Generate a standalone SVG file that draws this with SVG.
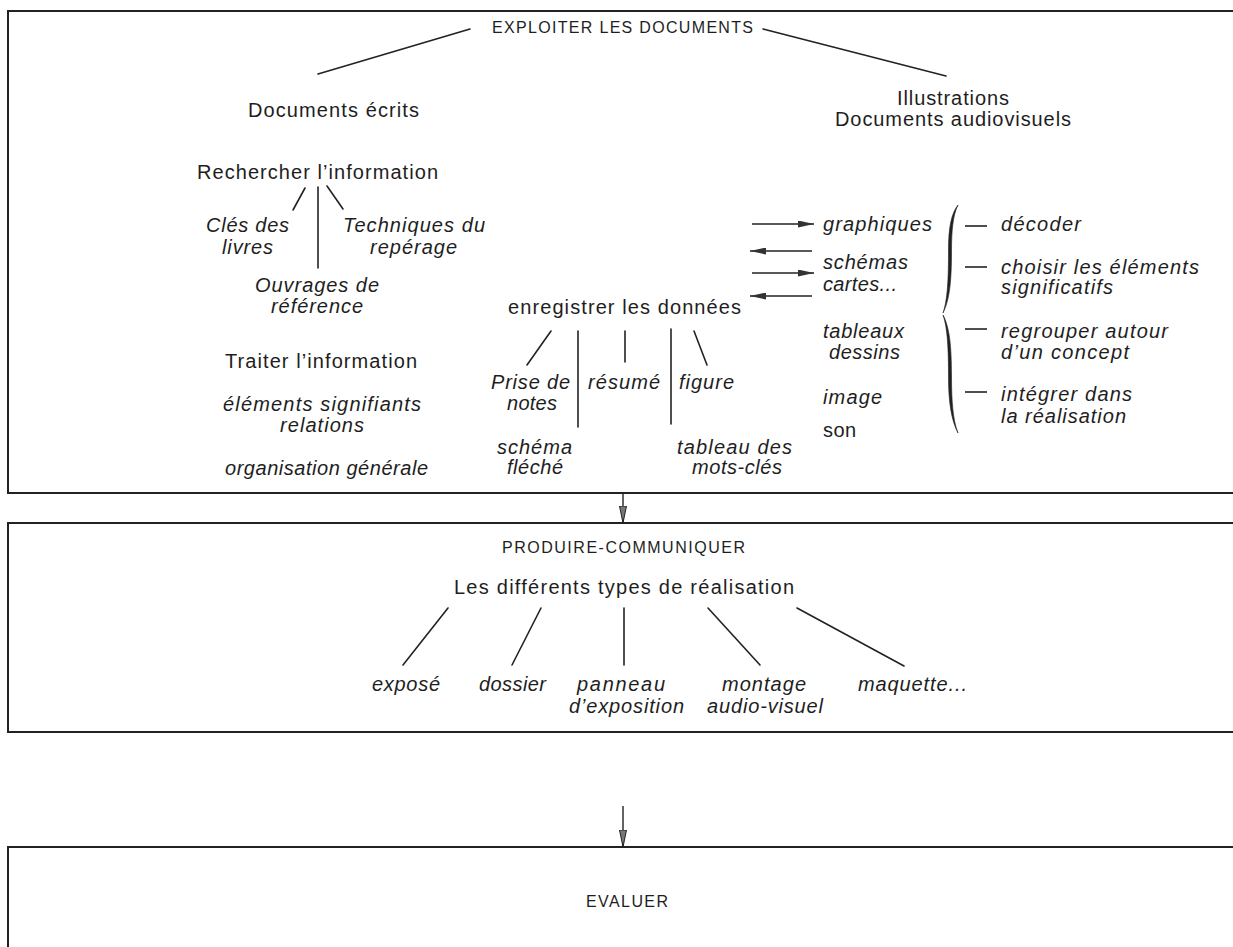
<svg xmlns="http://www.w3.org/2000/svg" width="1233" height="947" viewBox="0 0 1233 947">
<style>
  text { font-family: "Liberation Sans", Arial, Helvetica, sans-serif; font-size: 20px; fill: #1e1e1e; }
  .i { font-style: italic; }
  .cap { font-size: 16px; }
  .box { fill: none; stroke: #222; stroke-width: 2; }
  .ln { fill: none; stroke: #222; stroke-width: 1.6; stroke-linecap: round; }
  .dash { fill: none; stroke: #222; stroke-width: 1.6; }
  .arr { fill: none; stroke: #222; stroke-width: 1.5; marker-end: url(#ah); }
  .varr { fill: none; stroke: #222; stroke-width: 1.4; marker-end: url(#vh); }
  .brace { fill: #222; stroke: #222; stroke-width: 0.6; }
</style>
<defs>
  <marker id="ah" markerUnits="userSpaceOnUse" viewBox="0 0 16 7" refX="16" refY="3.5" markerWidth="16" markerHeight="7" orient="auto">
    <path d="M0,0 L16,3.5 L0,7 Z" fill="#333"/>
  </marker>
  <marker id="vh" markerUnits="userSpaceOnUse" viewBox="0 0 17 8" refX="17" refY="4" markerWidth="17" markerHeight="8" orient="auto">
    <path d="M0,0.5 L17,4 L0,7.5 Z" fill="#777" stroke="#222" stroke-width="1"/>
  </marker>
</defs>
<rect x="0" y="0" width="1233" height="947" fill="#ffffff"/>

<g id="box-exploiter"><rect class="box" x="8" y="11" width="1240" height="482"/></g>
<g id="box-produire"><rect class="box" x="8" y="523" width="1240" height="209"/></g>
<g id="box-evaluer"><rect class="box" x="8" y="847" width="1240" height="120"/></g>

<g id="connectors">
  <line class="ln" x1="470" y1="29" x2="318" y2="74"/>
  <line class="ln" x1="763" y1="29" x2="946" y2="76"/>
  <line class="ln" x1="305" y1="188" x2="293" y2="210"/>
  <line class="ln" x1="318" y1="187" x2="318" y2="268"/>
  <line class="ln" x1="327" y1="186" x2="343" y2="209"/>
  <line class="ln" x1="551" y1="331" x2="527" y2="365"/>
  <line class="ln" x1="578" y1="331" x2="578" y2="427"/>
  <line class="ln" x1="625" y1="331" x2="625" y2="362"/>
  <line class="ln" x1="671" y1="329" x2="671" y2="424"/>
  <line class="ln" x1="694" y1="331" x2="707" y2="365"/>
  <line class="arr" x1="752" y1="224" x2="814" y2="224"/>
  <line class="arr" x1="812" y1="251" x2="750" y2="251"/>
  <line class="arr" x1="752" y1="273" x2="814" y2="273"/>
  <line class="arr" x1="812" y1="296" x2="750" y2="296"/>
  <line class="dash" x1="965" y1="226" x2="987" y2="226"/>
  <line class="dash" x1="965" y1="267" x2="987" y2="267"/>
  <line class="dash" x1="965" y1="329" x2="987" y2="329"/>
  <line class="dash" x1="965" y1="392" x2="987" y2="392"/>
  <path class="brace" d="M958,205 C951,214 948.5,228 948.5,250 C948.5,280 947.5,300 943,313 C949.5,300 951.5,282 951.5,252 C951.5,230 953,215 958,205 Z"/>
  <path class="brace" d="M943,315 C947.5,328 948.5,348 948.5,378 C948.5,400 951,420 958,433 C953,420 951.5,402 951.5,376 C951.5,346 949.5,327 943,315 Z"/>
  <line class="varr" x1="623" y1="493" x2="623" y2="523"/>
  <line class="ln" x1="448" y1="608" x2="403" y2="665"/>
  <line class="ln" x1="541" y1="608" x2="512" y2="665"/>
  <line class="ln" x1="624" y1="608" x2="624" y2="665"/>
  <line class="ln" x1="708" y1="608" x2="760" y2="665"/>
  <line class="ln" x1="797" y1="608" x2="904" y2="666"/>
  <line class="varr" x1="623" y1="806" x2="623" y2="847"/>
</g>

<g id="t-exploiter"><text class="cap" x="492" y="33" textLength="261" lengthAdjust="spacing">EXPLOITER LES DOCUMENTS</text></g>
<g id="t-docs-ecrits"><text x="248" y="117" textLength="171" lengthAdjust="spacing">Documents écrits</text></g>
<g id="t-illustrations">
  <text x="897" y="105" textLength="112" lengthAdjust="spacing">Illustrations</text>
  <text x="835" y="126" textLength="236" lengthAdjust="spacing">Documents audiovisuels</text>
</g>
<g id="t-rechercher"><text x="197" y="179" textLength="241" lengthAdjust="spacing">Rechercher l’information</text></g>
<g id="t-cles">
  <text class="i" x="206" y="232" textLength="83" lengthAdjust="spacing">Clés des</text>
  <text class="i" x="222" y="254" textLength="51" lengthAdjust="spacing">livres</text>
</g>
<g id="t-techniques">
  <text class="i" x="343" y="232" textLength="142" lengthAdjust="spacing">Techniques du</text>
  <text class="i" x="370" y="254" textLength="87" lengthAdjust="spacing">repérage</text>
</g>
<g id="t-ouvrages">
  <text class="i" x="255" y="292" textLength="124" lengthAdjust="spacing">Ouvrages de</text>
  <text class="i" x="271" y="313" textLength="92" lengthAdjust="spacing">référence</text>
</g>
<g id="t-traiter"><text x="225" y="368" textLength="192" lengthAdjust="spacing">Traiter l’information</text></g>
<g id="t-elements">
  <text class="i" x="223" y="411" textLength="198" lengthAdjust="spacing">éléments signifiants</text>
  <text class="i" x="280" y="432" textLength="84" lengthAdjust="spacing">relations</text>
</g>
<g id="t-organisation"><text class="i" x="225" y="475" textLength="203" lengthAdjust="spacing">organisation générale</text></g>
<g id="t-enregistrer"><text x="508" y="314" textLength="233" lengthAdjust="spacing">enregistrer les données</text></g>
<g id="t-prise">
  <text class="i" x="491" y="389" textLength="79" lengthAdjust="spacing">Prise de</text>
  <text class="i" x="507" y="410" textLength="50" lengthAdjust="spacing">notes</text>
</g>
<g id="t-resume"><text class="i" x="588" y="389" textLength="72" lengthAdjust="spacing">résumé</text></g>
<g id="t-figure"><text class="i" x="679" y="389" textLength="55" lengthAdjust="spacing">figure</text></g>
<g id="t-schema">
  <text class="i" x="497" y="454" textLength="75" lengthAdjust="spacing">schéma</text>
  <text class="i" x="507" y="474" textLength="56" lengthAdjust="spacing">fléché</text>
</g>
<g id="t-tableau">
  <text class="i" x="677" y="454" textLength="115" lengthAdjust="spacing">tableau des</text>
  <text class="i" x="692" y="474" textLength="90" lengthAdjust="spacing">mots-clés</text>
</g>
<g id="t-graphiques"><text class="i" x="823" y="231" textLength="109" lengthAdjust="spacing">graphiques</text></g>
<g id="t-schemas">
  <text class="i" x="823" y="269" textLength="85" lengthAdjust="spacing">schémas</text>
  <text class="i" x="823" y="291" textLength="74" lengthAdjust="spacing">cartes...</text>
</g>
<g id="t-tableaux">
  <text class="i" x="823" y="338" textLength="81" lengthAdjust="spacing">tableaux</text>
  <text class="i" x="829" y="359" textLength="71" lengthAdjust="spacing">dessins</text>
</g>
<g id="t-image"><text class="i" x="823" y="404" textLength="59" lengthAdjust="spacing">image</text></g>
<g id="t-son"><text x="823" y="437" textLength="33" lengthAdjust="spacing">son</text></g>
<g id="t-decoder"><text class="i" x="1001" y="231" textLength="80" lengthAdjust="spacing">décoder</text></g>
<g id="t-choisir">
  <text class="i" x="1001" y="274" textLength="198" lengthAdjust="spacing">choisir les éléments</text>
  <text class="i" x="1001" y="294" textLength="112" lengthAdjust="spacing">significatifs</text>
</g>
<g id="t-regrouper">
  <text class="i" x="1001" y="338" textLength="167" lengthAdjust="spacing">regrouper autour</text>
  <text class="i" x="1001" y="359" textLength="128" lengthAdjust="spacing">d’un concept</text>
</g>
<g id="t-integrer">
  <text class="i" x="1001" y="401" textLength="131" lengthAdjust="spacing">intégrer dans</text>
  <text class="i" x="1001" y="423" textLength="125" lengthAdjust="spacing">la réalisation</text>
</g>
<g id="t-produire"><text class="cap" x="502" y="553" textLength="243" lengthAdjust="spacing">PRODUIRE-COMMUNIQUER</text></g>
<g id="t-types"><text x="454" y="594" textLength="340" lengthAdjust="spacing">Les différents types de réalisation</text></g>
<g id="t-expose"><text class="i" x="372" y="691" textLength="68" lengthAdjust="spacing">exposé</text></g>
<g id="t-dossier"><text class="i" x="479" y="691" textLength="67" lengthAdjust="spacing">dossier</text></g>
<g id="t-panneau">
  <text class="i" x="577" y="691" textLength="88" lengthAdjust="spacing">panneau</text>
  <text class="i" x="569" y="713" textLength="115" lengthAdjust="spacing">d’exposition</text>
</g>
<g id="t-montage">
  <text class="i" x="722" y="691" textLength="84" lengthAdjust="spacing">montage</text>
  <text class="i" x="707" y="713" textLength="116" lengthAdjust="spacing">audio-visuel</text>
</g>
<g id="t-maquette"><text class="i" x="858" y="691" textLength="109" lengthAdjust="spacing">maquette...</text></g>
<g id="t-evaluer"><text class="cap" x="586" y="907" textLength="82" lengthAdjust="spacing">EVALUER</text></g>
</svg>
